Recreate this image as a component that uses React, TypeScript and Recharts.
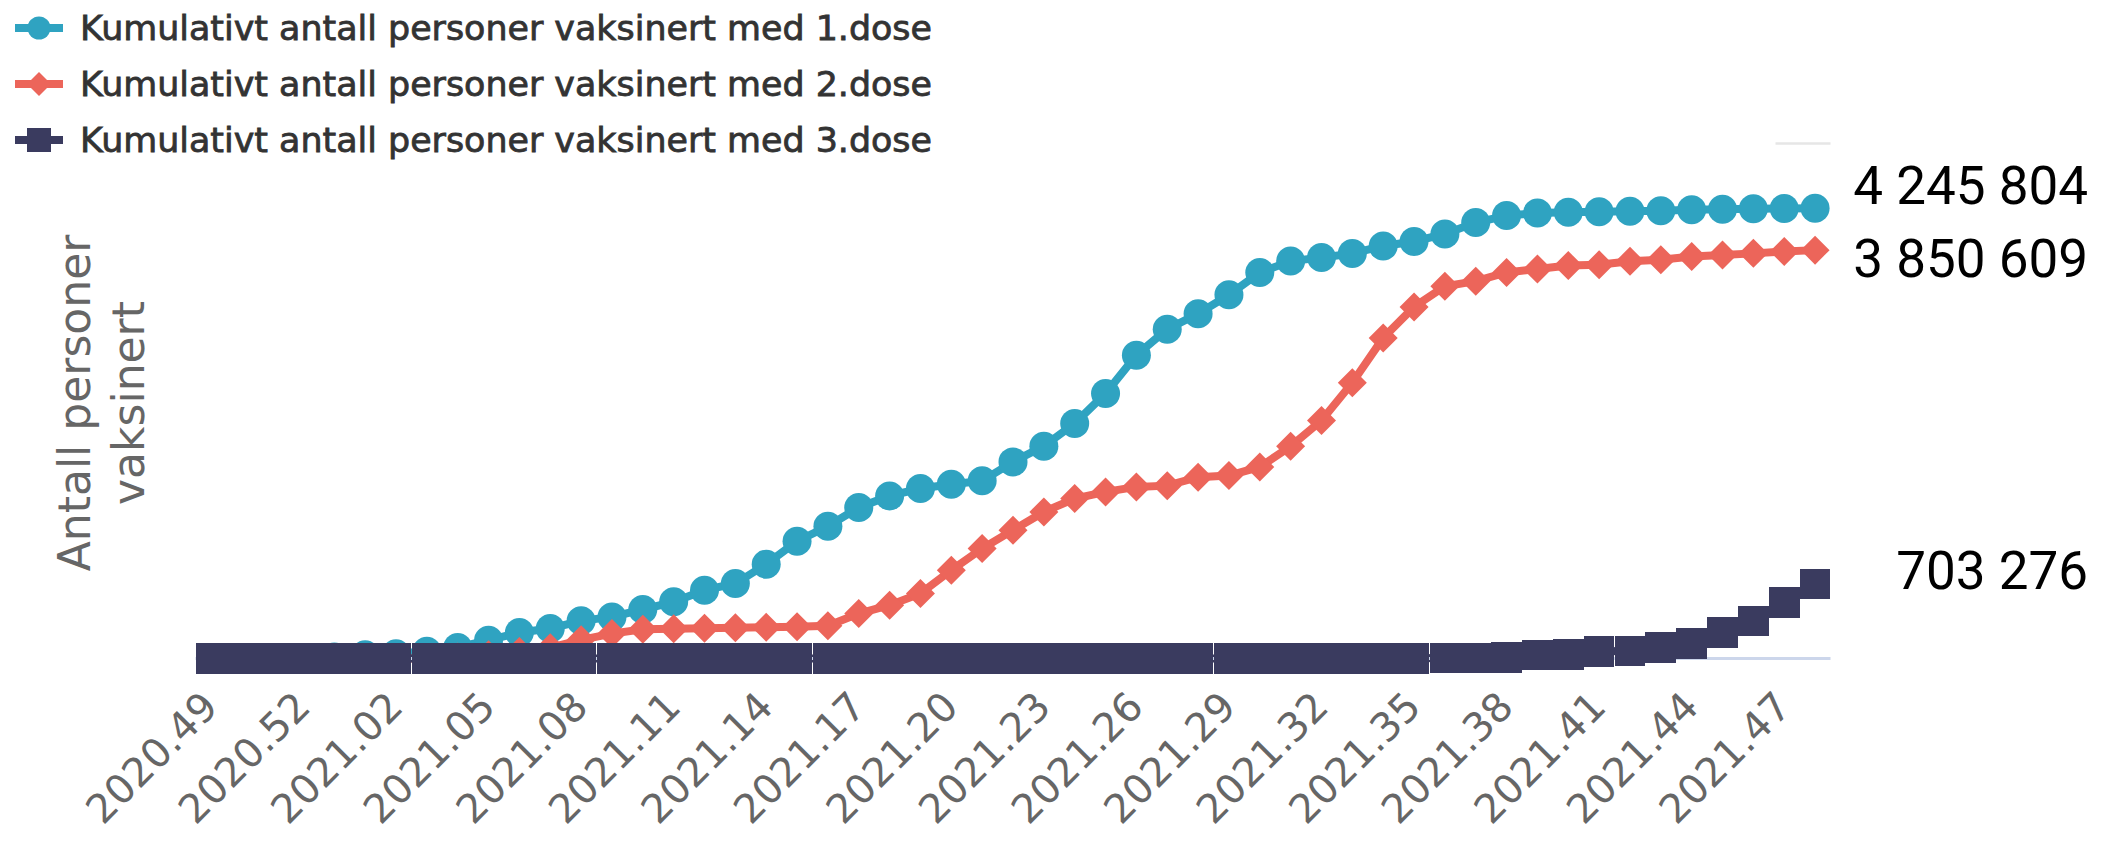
import React from 'react';
import { LineChart, Line, XAxis, YAxis, CartesianGrid, Legend } from 'recharts';

const categories = [
  '2020.49', '2020.50', '2020.51', '2020.52', '2020.53',
  '2021.01', '2021.02', '2021.03', '2021.04', '2021.05', '2021.06', '2021.07', '2021.08',
  '2021.09', '2021.10', '2021.11', '2021.12', '2021.13', '2021.14', '2021.15', '2021.16',
  '2021.17', '2021.18', '2021.19', '2021.20', '2021.21', '2021.22', '2021.23', '2021.24',
  '2021.25', '2021.26', '2021.27', '2021.28', '2021.29', '2021.30', '2021.31', '2021.32',
  '2021.33', '2021.34', '2021.35', '2021.36', '2021.37', '2021.38', '2021.39', '2021.40',
  '2021.41', '2021.42', '2021.43', '2021.44', '2021.45', '2021.46', '2021.47', '2021.48',
];

const dose1 = [
  0, 0, 0, 2000, 15000, 35000, 45000, 69000, 104000, 173000,
  245000, 283000, 355000, 392000, 462000, 534000, 644000, 707000, 889000, 1106000,
  1247000, 1424000, 1533000, 1603000, 1643000, 1675000, 1854000, 2002000, 2216000, 2499000,
  2860000, 3105000, 3251000, 3429000, 3640000, 3747000, 3780000, 3819000, 3890000, 3932000,
  4003000, 4111000, 4176000, 4200000, 4208000, 4213000, 4218000, 4222000, 4232000, 4236000,
  4240000, 4243000, 4245804,
];

const dose2 = [
  0, 0, 0, 0, 0, 0, 0, 1000, 15000, 35000,
  67000, 102000, 176000, 235000, 275000, 281000, 285000, 290000, 295000, 300000,
  308000, 424000, 503000, 613000, 833000, 1037000, 1210000, 1382000, 1509000, 1571000,
  1618000, 1630000, 1710000, 1725000, 1806000, 2001000, 2244000, 2601000, 3023000, 3315000,
  3510000, 3558000, 3640000, 3672000, 3705000, 3712000, 3745000, 3760000, 3790000, 3805000,
  3820000, 3838000, 3850609,
];

const dose3 = [
  0, 0, 0, 0, 0, 0, 0, 0, 0, 0,
  0, 0, 0, 0, 0, 0, 0, 0, 0, 0,
  0, 0, 0, 0, 0, 0, 0, 0, 0, 0,
  0, 0, 0, 0, 0, 0, 0, 0, 1000, 2000,
  4000, 6000, 9000, 32000, 35000, 67000, 72000, 105000, 140000, 246000,
  355000, 531000, 703276,
];

const seriesNames = [
  'Kumulativt antall personer vaksinert med 1.dose',
  'Kumulativt antall personer vaksinert med 2.dose',
  'Kumulativt antall personer vaksinert med 3.dose',
];

const yTicks = [0, 2375000, 4856000];
const yTitleLines = ['Antall personer', 'vaksinert'];

const C1 = '#2fa3c1';
const C2 = '#ec655a';
const C3 = '#3a3b5f';

const data = categories.map((week, i) => ({ week, d1: dose1[i], d2: dose2[i], d3: dose3[i] }));

const W = 2115;
const H = 841;
const MARGIN = { top: 143.5, right: 284.5, bottom: 122.5, left: 0 };
const Y_AXIS_W = 195.5;
const X_AXIS_H = 60;
const PLOT_W = W - MARGIN.right - MARGIN.left - Y_AXIS_W;
const BAND = PLOT_W / categories.length;
const SQ = BAND - 0.15;
const R = 14.5;
const LABEL_FONT = 'DejaVu Sans, Verdana, sans-serif';

const fmt = (n: number) => String(Math.round(n)).replace(/\B(?=(\d{3})+(?!\d))/g, ' ');

const CircleDot = (p: any) => {
  if (p.cx == null || p.cy == null) return <g key={p.key} />;
  return <circle key={p.key} cx={p.cx} cy={p.cy} r={R} fill={C1} />;
};
const DiamondDot = (p: any) => {
  if (p.cx == null || p.cy == null) return <g key={p.key} />;
  const { cx, cy } = p;
  return (
    <path key={p.key} d={`M${cx},${cy - R}L${cx + R},${cy}L${cx},${cy + R}L${cx - R},${cy}Z`} fill={C2} />
  );
};
const SquareDot = (p: any) => {
  if (p.cx == null || p.cy == null) return <g key={p.key} />;
  return (
    <rect key={p.key} x={p.cx - SQ / 2} y={p.cy - SQ / 2} width={SQ} height={SQ} fill={C3} shapeRendering="crispEdges" />
  );
};

const symbolFor = (key: string, cx: number, cy: number, color: string) => {
  if (key === 'd1') return <circle cx={cx} cy={cy} r={11.5} fill={color} />;
  if (key === 'd2') return <path d={`M${cx},${cy - 12}L${cx + 12},${cy}L${cx},${cy + 12}L${cx - 12},${cy}Z`} fill={color} />;
  return <rect x={cx - 12} y={cy - 12} width={24} height={24} fill={color} />;
};

const LegendContent = (props: any) => {
  const payload = props.payload || [];
  return (
    <svg width={980} height={170} style={{ display: 'block' }}>
      {payload.map((entry: any, i: number) => {
        const base = 40 + i * 56;
        const cy = base - 12;
        return (
          <g key={entry.dataKey}>
            <line x1={15} x2={63} y1={cy} y2={cy} stroke={entry.color} strokeWidth={8} />
            {symbolFor(entry.dataKey, 39, cy, entry.color)}
            <text
              x={80}
              y={base}
              fontFamily={LABEL_FONT}
              fontSize={34}
              fill="#333333"
              stroke="#333333"
              strokeWidth={0.8}
              textLength={852}
              lengthAdjust="spacingAndGlyphs"
            >
              {entry.value}
            </text>
          </g>
        );
      })}
    </svg>
  );
};

const YTitle = (props: any) => {
  const vb = props.viewBox || { x: 0, y: 0, width: 0, height: 0 };
  const cy = vb.y + vb.height / 2 + 2;
  const xs = [vb.x + 90, vb.x + 144];
  return (
    <g>
      {yTitleLines.map((t, i) => (
        <text
          key={t}
          x={xs[i]}
          y={cy}
          transform={`rotate(-90 ${xs[i]} ${cy})`}
          textAnchor="middle"
          fontFamily={LABEL_FONT}
          fontSize={44}
          fill="#666666"
        >
          {t}
        </text>
      ))}
    </g>
  );
};

const XTick = (props: any) => {
  const { x, y, payload } = props;
  const ax = x + 9;
  return (
    <text
      x={ax}
      y={y}
      transform={`rotate(-45 ${ax} ${y})`}
      textAnchor="end"
      fontFamily={LABEL_FONT}
      fontSize={40}
      fill="#666666"
    >
      {payload.value}
    </text>
  );
};

const gridLine = (p: any) => {
  const bottom = p.y + p.height;
  if (Math.abs(p.y1 - bottom) < 1) return <g key={p.key} />;
  const isTop = Math.abs(p.y1 - p.y) < 1;
  return (
    <line key={p.key} x1={isTop ? p.x2 - 55 : p.x1} x2={p.x2} y1={p.y1} y2={p.y2} stroke="#e6e6e6" strokeWidth={2.5} />
  );
};

const endLabel = (dy: number) => (p: any) => {
  if (p.index !== categories.length - 1) return <g key={p.key} />;
  return (
    <text key={p.key} x={p.x + 273} y={p.y + dy} textAnchor="end" fontFamily="Roboto, sans-serif" fontSize={53} fill="#000000">
      {fmt(p.value)}
    </text>
  );
};

export default function App() {
  return (
    <div style={{ width: W, height: H, background: '#ffffff' }}>
      <style>{'html,body{margin:0;padding:0;background:#ffffff;}'}</style>
      <LineChart width={W} height={H} data={data} margin={MARGIN}>
        <CartesianGrid vertical={false} horizontal={gridLine} />
        <XAxis
          dataKey="week"
          type="category"
          interval={2}
          height={X_AXIS_H}
          padding={{ left: BAND / 2, right: BAND / 2 }}
          tickLine={false}
          tickSize={0}
          tickMargin={50.5}
          tick={<XTick />}
          axisLine={{ stroke: '#ccd6eb', strokeWidth: 3 }}
        />
        <YAxis
          width={Y_AXIS_W}
          domain={[0, yTicks[yTicks.length - 1]]}
          ticks={yTicks}
          tick={false}
          tickLine={false}
          axisLine={false}
          label={<YTitle />}
        />
        <Legend
          layout="horizontal"
          verticalAlign="middle"
          align="center"
          content={<LegendContent />}
          wrapperStyle={{ left: 0, top: 0, width: 980, height: 170 }}
        />
        <Line
          dataKey="d1"
          name={seriesNames[0]}
          stroke={C1}
          strokeWidth={8}
          type="linear"
          dot={CircleDot}
          activeDot={false}
          isAnimationActive={false}
          label={endLabel(-4.7)}
        />
        <Line
          dataKey="d2"
          name={seriesNames[1]}
          stroke={C2}
          strokeWidth={8}
          type="linear"
          dot={DiamondDot}
          activeDot={false}
          isAnimationActive={false}
          label={endLabel(26.7)}
        />
        <Line
          dataKey="d3"
          name={seriesNames[2]}
          stroke={C3}
          strokeWidth={8}
          type="linear"
          dot={SquareDot}
          activeDot={false}
          isAnimationActive={false}
          label={endLabel(5.2)}
        />
      </LineChart>
    </div>
  );
}
